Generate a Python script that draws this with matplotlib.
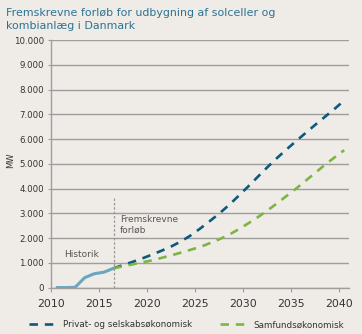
import numpy as np
import matplotlib
matplotlib.use('Agg')
import matplotlib.pyplot as plt

# data (values plotted mid-year, like the category axis of the original)
hist_years = [2010, 2011, 2012, 2013, 2014, 2015, 2016]
hist_mw = [0, 0, 10, 400, 560, 620, 780]

proj_years = list(range(2016, 2041))
privat_mw = [780, 910, 1040, 1180, 1330, 1490, 1660, 1860, 2100, 2380,
             2680, 2990, 3330, 3700, 4080, 4470, 4860, 5230, 5580, 5920,
             6250, 6580, 6900, 7220, 7560]
samfund_mw = [780, 860, 940, 1020, 1100, 1200, 1300, 1410, 1525, 1640,
              1790, 1950, 2130, 2350, 2590, 2840, 3110, 3400, 3700, 4000,
              4320, 4640, 4960, 5260, 5550]

ytick_vals = list(range(0, 10001, 1000))
ytick_labels = ['0', '1.000', '2.000', '3.000', '4.000', '5.000',
                '6.000', '7.000', '8.000', '9.000', '10.000']
xtick_vals = [2010, 2015, 2020, 2025, 2030, 2035, 2040]

bg = '#efebe7'
c_hist = '#6aa6c0'
c_priv = '#0b5a7e'
c_samf = '#7db543'
c_txt = '#333333'
c_grid = '#9e9e9e'

fig = plt.figure(figsize=(3.62, 3.34), dpi=100, facecolor=bg)
ax = fig.add_axes([0.141, 0.139, 0.823, 0.741], facecolor=bg)

hx = np.array(hist_years) + 0.5
px = np.array(proj_years) + 0.5

l1, = ax.plot(px, privat_mw, color=c_priv, lw=1.9, dashes=(3.2, 2.6),
              label='Privat- og selskabsøkonomisk')
l2, = ax.plot(px, samfund_mw, color=c_samf, lw=1.9, dashes=(3.2, 2.6),
              label='Samfundsøkonomisk')
ax.plot(hx, hist_mw, color=c_hist, lw=2.2, solid_capstyle='butt')

ax.plot([2016.5, 2016.5], [0, 3600], color='#999999', lw=0.9, dashes=(2, 1.5))
ax.text(2011.4, 1320, 'Historik', fontsize=6.5, color='#555555', va='center')
ax.text(2017.2, 2950, 'Fremskrevne\nforløb', fontsize=6.5, color='#555555',
        va='top', linespacing=1.3)

ax.set_xlim(2010, 2041)
ax.set_ylim(0, 10000)
ax.set_yticks(ytick_vals)
ax.set_yticklabels(ytick_labels)
ax.set_xticks(xtick_vals)
ax.yaxis.grid(True, color=c_grid, lw=1.0)
ax.set_axisbelow(True)
for s in ['top', 'right']:
    ax.spines[s].set_visible(False)
for s in ['left', 'bottom']:
    ax.spines[s].set_color(c_grid)
    ax.spines[s].set_linewidth(1.0)
ax.tick_params(axis='y', length=2, color=c_grid, labelsize=6.2, labelcolor=c_txt, pad=3)
ax.tick_params(axis='x', length=3, color=c_grid, labelsize=7.8, labelcolor=c_txt, pad=5)

fig.text(0.03, 0.52, 'MW', fontsize=6, color=c_txt, rotation=90,
         ha='center', va='center')

fig.text(0.017, 0.975, 'Fremskrevne forløb for udbygning af solceller og\nkombianlæg i Danmark',
         fontsize=7.9, color='#2b7393', va='top', ha='left', linespacing=1.3)

leg = fig.legend(handles=[l1, l2], loc='lower center', ncol=2, frameon=False,
                 fontsize=6.3, bbox_to_anchor=(0.515, -0.01), handlelength=3.2,
                 columnspacing=3.2, handletextpad=0.6, labelcolor=c_txt)

fig.savefig('out.png', dpi=100, facecolor=bg)
